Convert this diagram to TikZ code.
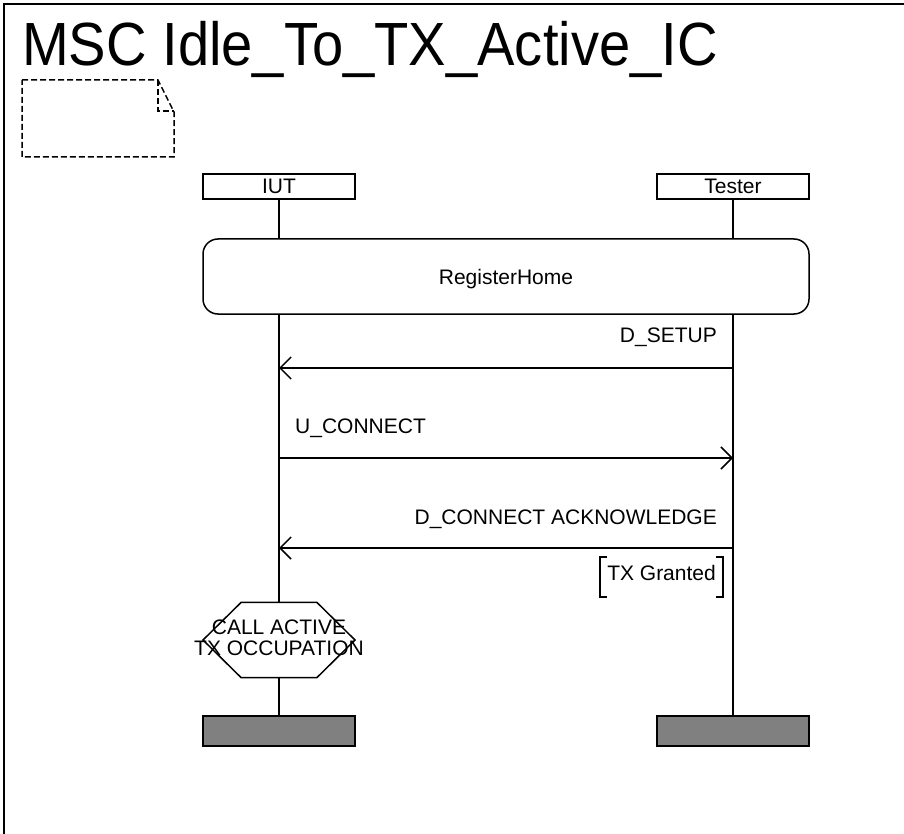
\documentclass[tikz,border=0pt]{standalone}
\usepackage{fontspec}
\setmainfont{Liberation Sans}
\usetikzlibrary{arrows.meta,shapes.geometric}
\begin{document}
\begin{tikzpicture}[x=1pt,y=-1pt,
  lw/.style={line width=1.5pt},
  lbl/.style={font=\fontsize{21}{21}\selectfont, inner sep=0pt},
  inst/.style={draw, lw, minimum width=152pt, minimum height=25pt, inner sep=0pt, font=\fontsize{21}{21}\selectfont},
  endbox/.style={draw, lw, fill=black!50, minimum width=152pt, minimum height=30pt, inner sep=0pt},
  msg/.style={lw, -{Straight Barb[length=11pt,width=22pt,line width=1.5pt]}},
  life/.style={lw}
]
\useasboundingbox (0,0) rectangle (904,834);
% frame
\draw[line width=2pt] (904,4) -- (4,4) -- (4,834);
% title
\node[anchor=base west, inner sep=0pt] (title) at (22,66)
  {\scalebox{0.92}[1]{\fontsize{61}{61}\selectfont MSC Idle\_To\_TX\_Active\_IC}};
% dashed comment/note
\draw[lw, dashed, dash pattern=on 6pt off 3pt] (22,80) -- (158,80) -- (174,112) -- (174,157) -- (22,157) -- cycle;
\draw[lw, dashed, dash pattern=on 6pt off 3pt] (158,80) -- (158,111) -- (174,111);
% instances
\node[inst] (iut) at (279,186.5) {IUT};
\node[inst] (tester) at (733,186.5) {Tester};
% reference
\node[draw, lw, rounded corners=15pt, minimum width=606pt, minimum height=75pt, inner sep=0pt] (ref) at (506,276.5) {};
\node[lbl, anchor=base] (reftxt) at (506,284) {RegisterHome};
% end boxes
\node[endbox] (iutend) at (279,731) {};
\node[endbox] (testerend) at (733,731) {};
% lifelines
\coordinate (iutrt) at (279,239);
\coordinate (iutrb) at (279,314);
\coordinate (tesrt) at (733,239);
\coordinate (tesrb) at (733,314);
% condition
\node[draw, lw, regular polygon, regular polygon sides=6, minimum size=152pt, inner sep=0pt, yscale=0.57] (cond) at (279,640) {};
\node[lbl, align=center] (condtxt) at (279,638) {CALL ACTIVE\\TX OCCUPATION};
\draw[life] (iut.south) -- (iutrt);
\draw[life] (tester.south) -- (tesrt);
\draw[life] (iutrb) -- (cond.north);
\draw[life] (cond.south) -- (iutend.north);
\draw[life] (tesrb) -- (testerend.north);
% messages
\coordinate (m1t) at (733,368); \coordinate (m1i) at (279,368);
\coordinate (m2t) at (733,458); \coordinate (m2i) at (279,458);
\coordinate (m3t) at (733,548); \coordinate (m3i) at (279,548);
\draw[msg] (m1t) -- (m1i);
\draw[msg] (m2i) -- (m2t);
\draw[msg] (m3t) -- (m3i);
\node[lbl, anchor=base east] (l1) at (717,342) {D\_SETUP};
\node[lbl, anchor=base west] (l2) at (295,433) {U\_CONNECT};
\node[lbl, anchor=base east] (l3) at (717,524) {D\_CONNECT ACKNOWLEDGE};
% action / TX Granted
\node[lbl, anchor=base east] (tx) at (716,580) {TX Granted};
\draw[lw] (607,557) -- (600,557) -- (600,597) -- (607,597);
\draw[lw] (716,557) -- (723,557) -- (723,597) -- (716,597);
\end{tikzpicture}
\end{document}
